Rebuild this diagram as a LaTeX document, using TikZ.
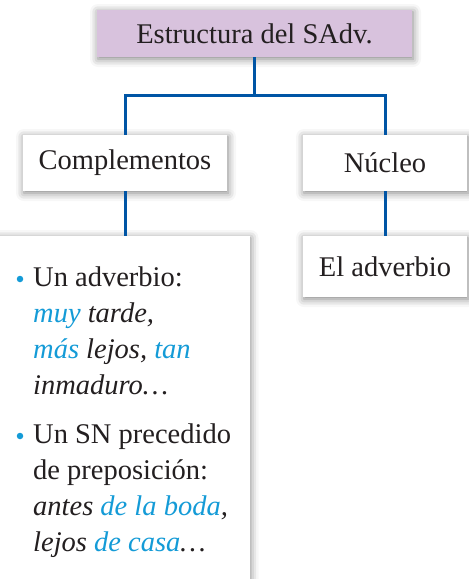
\documentclass[tikz,border=0pt]{standalone}
\usepackage{fontspec}
\setmainfont{Liberation Serif}
\usetikzlibrary{shadows.blur}
\definecolor{linkblue}{RGB}{0,85,165}
\definecolor{titlefill}{RGB}{216,194,221}
\definecolor{hl}{RGB}{20,155,215}
\definecolor{ink}{RGB}{35,31,32}
\tikzset{
  box/.style={rectangle, fill=white, inner sep=0pt, text=ink,
    font=\fontsize{28.5}{34}\selectfont,
    blur shadow={shadow xshift=1pt, shadow yshift=-2pt, shadow blur radius=8pt, shadow opacity=50}},
  conn/.style={draw=linkblue, line width=3pt},
  line/.style={anchor=base west, inner sep=0pt, text=ink, font=\fontsize{28.5}{34}\selectfont},
  dot/.style={circle, fill=hl, inner sep=0pt, minimum size=6.5pt}
}
\begin{document}
\begin{tikzpicture}[x=1pt, y=-1pt]
\useasboundingbox (0,0) rectangle (469,579);
\clip (0,0) rectangle (469,579);
% boxes
\node[box, fill=titlefill, minimum width=315pt, minimum height=47pt] (title) at (254.5,33.5) {Estructura del SAdv.};
\node[box, minimum width=204pt, minimum height=56pt] (comp) at (125,163) {Complementos};
\node[box, minimum width=164pt, minimum height=56pt] (nuc) at (385,163) {Núcleo};
\node[box, minimum width=251pt, minimum height=370pt] (list) at (124,421) {};
\node[box, minimum width=164pt, minimum height=61pt] (eladv) at (385,266.5) {El adverbio};
% connectors
\coordinate (split) at (254.5,95);
\draw[conn] (title.south) -- (split);
\draw[conn] (comp.north) -- (comp.north |- split) -- (nuc.north |- split) -- (nuc.north);
\draw[conn] (comp.south) -- (comp.south |- list.north);
\draw[conn] (nuc.south) -- (eladv.north);
% list text
\node[dot] (b1) at (20,279) {};
\node[line] (l1) at (33,286) {Un adverbio:};
\node[line] (l2) at (33,322) {\itshape\textcolor{hl}{muy} tarde,};
\node[line] (l3) at (33,358) {\itshape\textcolor{hl}{más} lejos, \textcolor{hl}{tan}};
\node[line] (l4) at (33,394) {\itshape inmaduro…};
\node[dot] (b2) at (20,436) {};
\node[line] (l5) at (33,443) {Un SN precedido};
\node[line] (l6) at (33,479) {de preposición:};
\node[line] (l7) at (33,515) {\itshape antes \textcolor{hl}{de la boda},};
\node[line] (l8) at (33,551) {\itshape lejos \textcolor{hl}{de casa}…};
\end{tikzpicture}
\end{document}
